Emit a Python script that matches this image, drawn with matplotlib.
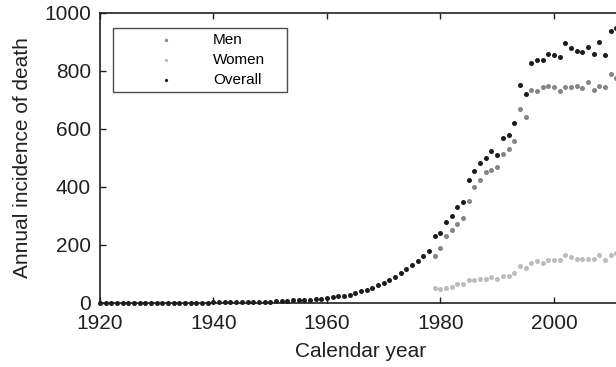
import numpy as np
import matplotlib
matplotlib.use("Agg")
import matplotlib.pyplot as plt

plt.rcParams['font.family'] = ['Liberation Sans', 'DejaVu Sans']

# Annual deaths, all cases, 1920-2011
overall_years = list(range(1920, 2012))
overall_deaths = (
    [0] * 20 +
    [1, 1, 1, 1, 2, 2, 2, 3, 3, 4, 4, 5, 6, 7] +          # 1940-1953
    [8, 9, 10, 11, 13, 14, 16, 19, 22, 24, 28, 32, 39, 45,  # 1954-1967
     52, 60, 68, 77, 89, 103, 115, 129, 144, 162, 180] +    # 1968-1978
    [230, 240, 277, 298, 331, 346, 424, 453, 481, 500, 525,  # 1979-1989
     511, 567, 578, 620, 751, 720, 828, 838, 837, 859,       # 1990-1999
     855, 849, 897, 879, 869, 864, 884, 859, 900, 856, 938, 949]  # 2000-2011
)

# Sex-specific series, available from 1979
sex_years = list(range(1979, 2012))
men_deaths = [161, 189, 231, 250, 273, 292, 350, 400, 422, 451, 457,
              468, 512, 532, 559, 670, 642, 734, 730, 746, 749,
              744, 732, 744, 744, 748, 740, 762, 734, 749, 744, 791, 775]
women_deaths = [52, 47, 52, 55, 63, 63, 78, 78, 83, 82, 90,
                81, 92, 91, 101, 126, 119, 137, 143, 137, 146,
                146, 146, 166, 159, 152, 152, 152, 150, 164, 146, 166, 172]

x_ticks = [1920, 1940, 1960, 1980, 2000]
y_ticks = [0, 200, 400, 600, 800, 1000]

fig = plt.figure(figsize=(6.16, 3.67), dpi=100)
ax = fig.add_axes([100 / 616, (367 - 302.7) / 367, 522 / 616, 289.7 / 367])

dot = 13
ax.scatter(sex_years, men_deaths, s=dot, color='#858585', linewidths=0,
           label='Men', zorder=3, clip_on=False)
ax.scatter(sex_years, women_deaths, s=dot, color='#bcbcbc', linewidths=0,
           label='Women', zorder=3, clip_on=False)
ax.scatter(overall_years, overall_deaths, s=dot, color='#1e1c1d', linewidths=0,
           label='Overall', zorder=3, clip_on=False)

ax.set_xlim(1920, 2012)
ax.set_ylim(0, 1000)
ax.set_xticks(x_ticks)
ax.set_yticks(y_ticks)
ax.tick_params(direction='in', length=4, width=1.0, labelsize=15,
               top=True, right=True, colors='#231f20')
ax.tick_params(axis='x', pad=8)
ax.tick_params(axis='y', pad=6.5)
for sp in ax.spines.values():
    sp.set_linewidth(1.2)
    sp.set_color('#231f20')

ax.set_xlabel('Calendar year', fontsize=15, color='#231f20')
ax.set_ylabel('Annual incidence of death', fontsize=15, color='#231f20')
ax.xaxis.set_label_coords(0.5, -0.134)
ax.yaxis.set_label_coords(-0.1296, 0.5)

leg = ax.legend(loc='upper left',
                bbox_to_anchor=(113 / 616, 1 - 28 / 367, 174 / 616, 0.001),
                bbox_transform=fig.transFigure, mode='expand',
                fontsize=11, markerscale=0.65, frameon=True, fancybox=False,
                edgecolor='#231f20', borderpad=0.35, labelspacing=0.39,
                handlelength=6.2, handletextpad=0.0, borderaxespad=0)
leg.get_frame().set_linewidth(1.0)

fig.savefig('out.png', dpi=100)
